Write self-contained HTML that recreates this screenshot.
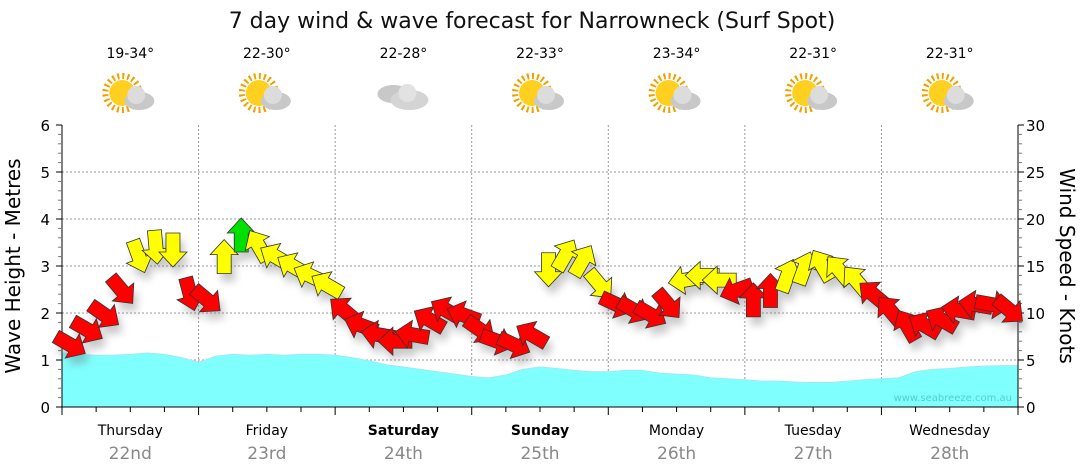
<!DOCTYPE html>
<html><head><meta charset="utf-8"><style>
body{margin:0;background:#fff;}
svg{display:block;font-family:"DejaVu Sans","Liberation Sans",sans-serif;}
</style></head><body>
<svg id="c" width="1080" height="475">
<defs><filter id="sh" x="-50%" y="-50%" width="200%" height="200%"><feGaussianBlur stdDeviation="4"/></filter></defs>
<text x="532" y="28" font-size="22" text-anchor="middle" fill="#111">7 day wind &amp; wave forecast for Narrowneck (Surf Spot)</text>
<text transform="translate(20,266) rotate(-90)" font-size="20" text-anchor="middle">Wave Height - Metres</text>
<text transform="translate(1060,266) rotate(90)" font-size="20" text-anchor="middle">Wind Speed - Knots</text>
<g id="g"></g>
</svg>
<script>
const days=["Thursday","Friday","Saturday","Sunday","Monday","Tuesday","Wednesday"];
const dates=["22nd","23rd","24th","25th","26th","27th","28th"];
const temps=["19-34°","22-30°","22-28°","22-33°","23-34°","22-31°","22-31°"];
const cloudy=[0,0,1,0,0,0,0];
const waveH=[1.15,1.12,1.1,1.1,1.12,1.15,1.12,1.05,0.95,1.08,1.12,1.1,1.12,1.1,1.12,1.12,1.1,1.05,0.98,0.9,0.85,0.8,0.75,0.7,0.65,0.62,0.68,0.8,0.85,0.82,0.78,0.75,0.75,0.78,0.78,0.72,0.7,0.68,0.62,0.6,0.58,0.55,0.55,0.53,0.52,0.52,0.55,0.58,0.6,0.62,0.75,0.8,0.82,0.85,0.87,0.88,0.88];
const windKt=[6.6,8.2,9.8,12.4,16,17,16.7,12,11.4,16,18.3,17.2,16,15,14,13,10.3,8.7,7.7,7,7.7,9.3,10.3,9.8,8.2,7,6.6,7.7,14.6,16.2,15.6,13,10.9,10.3,9.8,10.9,13.5,14,13.5,12.4,11.4,12.4,14,14.8,15.1,14.6,13.5,12,10.3,8.7,8.7,9.3,10.3,10.9,10.9,10.3];
const windDir=[120,120,125,140,160,175,180,165,130,0,0,330,300,300,295,300,310,290,280,270,280,300,300,290,125,110,115,300,180,30,30,140,115,120,120,140,260,270,270,250,0,0,20,20,330,320,320,310,320,330,300,300,280,280,100,130];
const g=document.getElementById('g');
const NS='http://www.w3.org/2000/svg';
const X0=62,X1=1018,Y0=407,Y1=125;
const xI=i=>X0+i*(X1-X0)/56;
const yW=v=>Y0-v*(Y0-Y1)/6;
const yK=v=>Y0-v*(Y0-Y1)/30;
function el(t,a,p){const e=document.createElementNS(NS,t);for(const k in a)e.setAttribute(k,a[k]);(p||g).appendChild(e);return e;}
for(let v=1;v<=5;v++){const l=el('line',{x1:X0,x2:X1,y1:yW(v),y2:yW(v),stroke:'#999','stroke-dasharray':'2,2'});

}
for(let d=1;d<7;d++){const x=X0+d*(X1-X0)/7;const l=el('line',{x1:x,x2:x,y1:Y1,y2:Y0,stroke:'#999','stroke-dasharray':'2,2'});

}
let d='M'+X0+','+Y0;
waveH.forEach((v,i)=>{d+=' L'+xI(i)+','+yW(v);});
d+=' L'+X1+','+Y0+' Z';
const wa=el('path',{d:d,fill:'#80ffff',stroke:'#a0e8f8'});


const wm=el('text',{x:1012,y:401,'font-size':10,fill:'#5cc','text-anchor':'end'});wm.textContent='www.seabreeze.com.au';


el('line',{x1:X0,x2:X0,y1:Y1,y2:Y0,stroke:'#000'});
el('line',{x1:X1,x2:X1,y1:Y1,y2:Y0,stroke:'#000'});
el('line',{x1:X0,x2:X1,y1:Y0,y2:Y0,stroke:'#000'});
for(let i=0;i<=30;i++){const y=Y0-i*(Y0-Y1)/30;const maj=i%5==0;
el('line',{x1:X0-(maj?6:4),x2:X0,y1:y,y2:y,stroke:maj?'#000':'#777'});
el('line',{x1:X1,x2:X1+(maj?6:4),y1:y,y2:y,stroke:maj?'#000':'#777'});
if(maj){const t=el('text',{x:X0-12,y:y+6,'font-size':15,'text-anchor':'end'});t.textContent=i/5;


const t2=el('text',{x:X1+8,y:y+6,'font-size':15});t2.textContent=i;

}}
for(let i=0;i<=28;i++){const x=X0+i*(X1-X0)/28;const maj=i%4==0;el('line',{x1:x,x2:x,y1:Y0,y2:Y0+(maj?8:5),stroke:'#000'});}
days.forEach((n,i)=>{const cx=X0+(i+0.5)*(X1-X0)/7;
const t=el('text',{x:cx,y:435,'font-size':14,'text-anchor':'middle','font-weight':(i==2||i==3)?'bold':'normal'});t.textContent=n;


const t2=el('text',{x:cx,y:459,'font-size':17,'text-anchor':'middle',fill:'#888'});t2.textContent=dates[i];


const t3=el('text',{x:cx,y:58,'font-size':14,'text-anchor':'middle'});t3.textContent=temps[i];


const ic=el('g',{transform:'translate('+cx+',96)'});


if(!cloudy[i]){el('circle',{cx:-8,cy:-3,r:17,fill:'none',stroke:'#f0a000','stroke-width':6,'stroke-dasharray':'2,3'},ic);el('circle',{cx:-8,cy:-3,r:13,fill:'#ffd020'},ic);
el('ellipse',{cx:9,cy:5,rx:15,ry:9,fill:'#c8c8c8'},ic);el('circle',{cx:6,cy:-1,r:9,fill:'#dcdcdc'},ic);}
else{el('ellipse',{cx:-10,cy:-2,rx:16,ry:9,fill:'#c8c8c8'},ic);el('ellipse',{cx:6,cy:4,rx:19,ry:10,fill:'#d4d4d4'},ic);el('circle',{cx:4,cy:-3,r:9,fill:'#e2e2e2'},ic);}
});
const ag=el('g',{});


const shg=el('g',{filter:'url(#sh)',opacity:0.35},ag);
windKt.forEach((v,i)=>{el('polygon',{points:'-7,17 7,17 7,-2 14,-2 0,-17 -14,-2 -7,-2',fill:'#666',
transform:'translate('+(xI(i+0.5)+4)+','+(yK(v)+8)+') rotate('+windDir[i]+')'},shg);});
windKt.forEach((v,i)=>{const col=v>=18?'#00e000':v>=12.5?'#ffff00':'#ff0000';
const a=el('polygon',{points:'-7,17 7,17 7,-2 14,-2 0,-17 -14,-2 -7,-2',fill:col,stroke:'#333','stroke-width':0.8,
transform:'translate('+xI(i+0.5)+','+yK(v)+') rotate('+windDir[i]+')'},ag);

});
</script>
</body></html>
